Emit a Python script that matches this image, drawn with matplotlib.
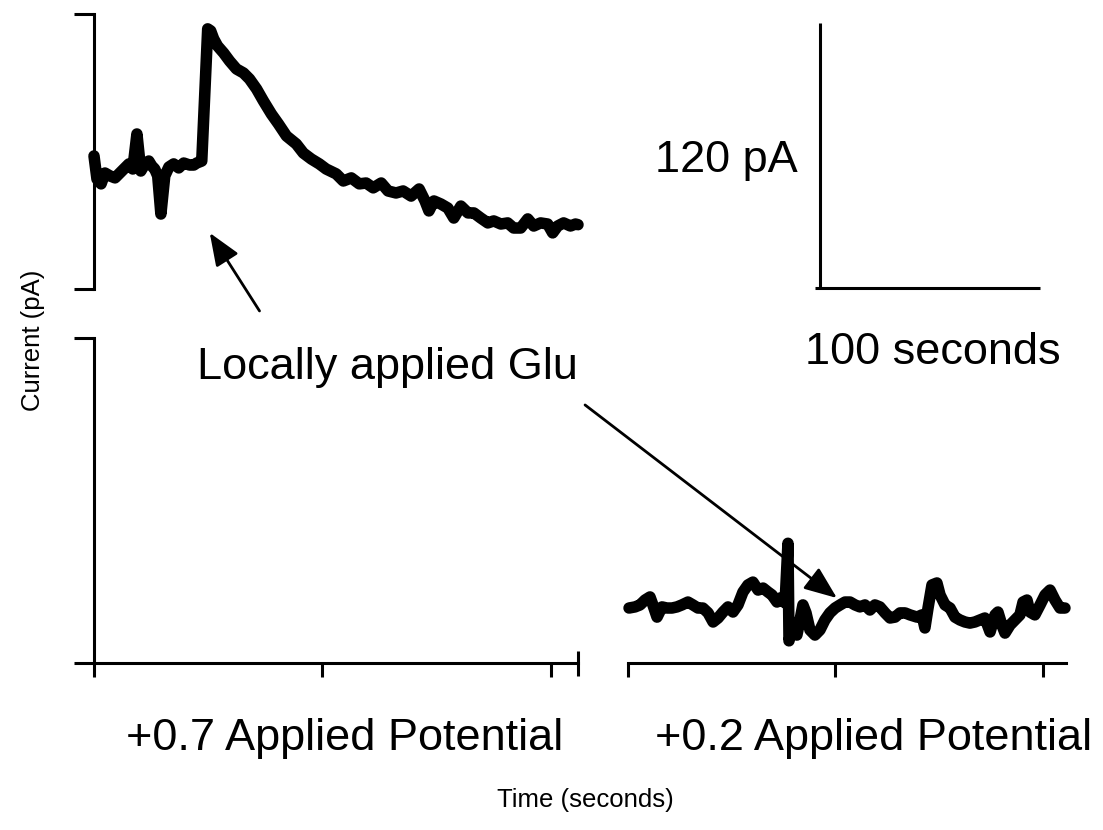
import matplotlib
matplotlib.use("Agg")
import matplotlib.pyplot as plt

plt.rcParams['font.family'] = ['Liberation Sans', 'DejaVu Sans']

# ---------------- data ----------------
# +0.7 V trace (time in s, current in pA)
top_time = [0, 1.3, 3.1, 4.8, 7.0, 9.2, 12.2, 15.3, 17.0, 18.8, 20.5, 22.3, 24.0, 25.3,
            26.6, 27.9, 29.3, 31.0, 32.8, 34.9, 37.1, 39.3, 41.9, 43.7, 45.0, 47.2, 49.8,
            51.1, 52.4, 54.1, 56.8, 59.4, 62.4, 65.5, 68.1, 71.2, 74.2, 77.7, 80.8, 84.3,
            88.6, 91.7, 95.2, 98.7, 101.7, 106.1, 109.2, 112.7, 116.2, 119.2, 122.3, 125.8,
            128.8, 132.3, 135.4, 138.9, 142.4, 145.0, 146.7, 148.9, 152.0, 155.0, 157.6,
            160.7, 163.8, 166.4, 169.4, 172.5, 175.1, 178.2, 181.2, 183.8, 186.9, 190.0,
            192.6, 195.6, 198.7, 200.9, 203.1, 205.7, 208.7, 210.9, 212.0]
top_current = [60.0, 49.6, 47.4, 52.3, 51.0, 50.1, 53.2, 56.4, 54.1, 69.9, 53.2, 56.4, 57.7,
               55.5, 54.1, 51.0, 33.8, 51.0, 55.0, 56.4, 54.6, 56.8, 55.9, 55.9, 56.8, 57.7,
               117.3, 116.4, 112.8, 109.6, 106.4, 102.8, 99.2, 97.4, 94.7, 90.2, 84.8, 78.9,
               74.4, 69.0, 65.4, 61.3, 58.6, 56.4, 54.1, 51.9, 48.7, 50.1, 47.4, 47.8, 45.6,
               47.8, 44.2, 43.3, 44.2, 41.9, 45.1, 39.7, 35.2, 39.7, 38.3, 36.5, 32.0, 37.4,
               34.3, 34.3, 32.0, 29.8, 30.7, 29.3, 29.8, 27.5, 27.5, 31.6, 28.4, 29.8, 29.3,
               25.3, 28.4, 29.8, 28.4, 29.3, 29.0]

# +0.2 V trace
low_time = [0.5, 3.4, 5.8, 8.2, 10.6, 12.0, 14.0, 16.4, 18.8, 21.2, 23.6, 26.0, 28.9, 31.3,
            33.7, 36.1, 38.6, 41.0, 43.4, 45.8, 48.2, 50.6, 53.0, 55.4, 57.8, 60.2, 62.7,
            65.1, 67.5, 69.4, 71.8, 73.3, 75.7, 77.1, 77.6, 79.5, 81.4, 82.9, 84.3, 85.8,
            87.7, 90.1, 92.5, 94.9, 97.3, 99.8, 102.2, 104.6, 107.0, 109.4, 111.8, 114.2,
            116.6, 119.0, 121.4, 123.9, 126.3, 128.7, 131.1, 133.5, 135.9, 139.3, 141.7,
            143.1, 144.6, 146.5, 148.9, 150.4, 152.8, 155.2, 157.6, 160.0, 162.4, 164.8,
            167.2, 169.6, 172.0, 174.5, 176.9, 178.3, 180.2, 181.7, 184.1, 186.5, 188.9,
            190.4, 192.3, 193.7, 196.1, 198.6, 201.0, 203.4, 205.8, 208.2, 210.6]
low_current = [24.8, 25.3, 26.2, 28.4, 29.8, 26.2, 20.7, 25.3, 24.8, 24.8, 25.3, 26.2, 27.5,
               26.2, 24.8, 24.8, 22.6, 18.5, 20.3, 23.0, 25.3, 23.0, 26.2, 32.0, 35.2, 36.5,
               32.9, 33.8, 32.0, 30.7, 27.5, 29.3, 27.1, 54.0, 10.0, 18.0, 12.6, 19.4, 26.2,
               22.6, 14.9, 12.6, 14.9, 19.4, 22.6, 24.8, 26.2, 27.5, 27.5, 26.2, 25.3, 26.2,
               23.9, 26.2, 25.3, 22.6, 20.3, 20.7, 22.6, 22.6, 21.7, 20.7, 21.7, 15.8, 24.8,
               35.2, 36.1, 30.7, 26.2, 24.8, 20.7, 19.4, 18.5, 18.0, 18.5, 19.4, 20.3, 14.0,
               21.7, 23.0, 17.1, 13.5, 17.1, 19.4, 21.7, 27.5, 28.4, 23.0, 21.7, 26.2, 30.7,
               32.9, 28.4, 24.8, 24.8]

time_ticks = [0, 100, 200]
left_tmax = 212.0
right_tmax = 211.1
top_imax = 124.0
bot_imax = 146.6
scalebar_time = 100      # seconds
scalebar_current = 120   # pA

# ---------------- figure ----------------
W, H = 1103, 830
fig = plt.figure(figsize=(W / 100, H / 100), dpi=100)


def px_axes(l, t, r, b):
    return fig.add_axes([l / W, 1 - b / H, (r - l) / W, (b - t) / H])


LW_AX = 2.2
TRACE_LW = 8.3
OUT_Y = 14.4
IN_Y = 8.6
OUT_X = 10.0
IN_X = 8.0


def clean(ax):
    for s in ax.spines.values():
        s.set_visible(False)
    ax.set_xticks([])
    ax.set_yticks([])
    ax.patch.set_alpha(0)


# top panel (+0.7)
ax_top = px_axes(94, 14, 578, 289)
clean(ax_top)
ax_top.set_xlim(0, left_tmax)
ax_top.set_ylim(0, top_imax)
ax_top.spines['left'].set_visible(True)
ax_top.spines['left'].set_linewidth(LW_AX)
ax_top.set_yticks([0, top_imax])
ax_top.set_yticks([0], minor=True)
ax_top.tick_params(axis='y', which='major', direction='out', length=OUT_Y, width=LW_AX, labelleft=False)
ax_top.tick_params(axis='y', which='minor', direction='in', length=IN_Y, width=LW_AX, labelleft=False)
ax_top.plot(top_time, top_current, color='black', lw=TRACE_LW, solid_joinstyle='round',
            solid_capstyle='round', clip_on=False)

# bottom-left panel (empty axes)
ax_bl = px_axes(94, 338, 578, 663)
clean(ax_bl)
ax_bl.set_xlim(0, left_tmax)
ax_bl.set_ylim(0, bot_imax)
for s in ('left', 'bottom'):
    ax_bl.spines[s].set_visible(True)
    ax_bl.spines[s].set_linewidth(LW_AX)
ax_bl.set_yticks([0, bot_imax])
ax_bl.set_yticks([bot_imax], minor=True)
ax_bl.tick_params(axis='y', which='major', direction='out', length=OUT_Y, width=LW_AX, labelleft=False)
ax_bl.tick_params(axis='y', which='minor', direction='in', length=IN_Y, width=LW_AX, labelleft=False)
ax_bl.set_xticks(time_ticks)
ax_bl.set_xticks([left_tmax], minor=True)
ax_bl.tick_params(axis='x', which='major', direction='out', length=OUT_X, width=LW_AX, labelbottom=False)
ax_bl.tick_params(axis='x', which='minor', direction='inout', length=2 * IN_X + 2, width=LW_AX, labelbottom=False)

# bottom-right panel (+0.2)
ax_br = px_axes(628, 338, 1066, 663)
clean(ax_br)
ax_br.set_xlim(0, right_tmax)
ax_br.set_ylim(0, bot_imax)
ax_br.spines['bottom'].set_visible(True)
ax_br.spines['bottom'].set_linewidth(LW_AX)
ax_br.set_xticks(time_ticks)
ax_br.set_xticks([0], minor=True)
ax_br.tick_params(axis='x', which='major', direction='out', length=OUT_X, width=LW_AX, labelbottom=False)
ax_br.tick_params(axis='x', which='minor', direction='in', length=IN_X, width=LW_AX, labelbottom=False)
ax_br.plot(low_time, low_current, color='black', lw=TRACE_LW, solid_joinstyle='round',
           solid_capstyle='round', clip_on=False)

# scale bar
ax_sb = px_axes(800, 10, 1050, 300)
clean(ax_sb)
ax_sb.set_xlim(-20 / 2.23, 230 / 2.23)
ax_sb.set_ylim(-12 / 2.21, 278 / 2.21)
ax_sb.plot([0, 0], [0, scalebar_current], color='black', lw=LW_AX, solid_capstyle='butt')
ax_sb.plot([-2.2, scalebar_time - 1.5], [0, 0], color='black', lw=LW_AX, solid_capstyle='butt')

# arrows
arrow_kw = dict(arrowstyle='-|>,head_length=1.0,head_width=0.4', color='black', lw=2.0,
                shrinkA=0, shrinkB=0, mutation_scale=20)
ax_top.annotate('', xy=(50.7, 25.3), xytext=(72.5, -9.9), xycoords='data', textcoords='data',
                arrowprops=arrow_kw, annotation_clip=False)
ax_br.annotate('', xy=(100.7, 29.3), xytext=(-20.7, 116.4), xycoords='data', textcoords='data',
               arrowprops=arrow_kw, annotation_clip=False)


# texts
def ftext(x, y, s, **kw):
    fig.text(x / W, 1 - y / H, s, **kw)


BIG = 32.5
ftext(197, 379, 'Locally applied Glu', fontsize=BIG, ha='left', va='baseline')
ftext(655, 172, '120 pA', fontsize=BIG, ha='left', va='baseline')
ftext(805, 364, '100 seconds', fontsize=BIG, ha='left', va='baseline')
ftext(126, 750, '+0.7 Applied Potential', fontsize=BIG, ha='left', va='baseline')
ftext(655, 750, '+0.2 Applied Potential', fontsize=BIG, ha='left', va='baseline')
ftext(585, 800, 'Time (seconds)', fontsize=18.5, ha='center', va='center')
ftext(33, 340, 'Current (pA)', fontsize=18.5, ha='center', va='center', rotation=90)

fig.savefig('out.png', dpi=100)
